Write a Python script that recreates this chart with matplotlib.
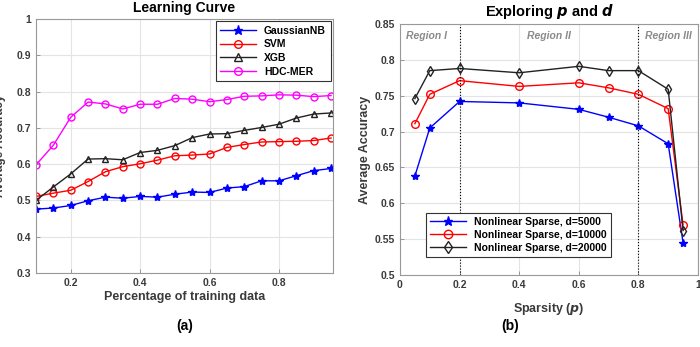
import numpy as np
import matplotlib.pyplot as plt

plt.rcParams['font.family'] = ['Liberation Sans', 'DejaVu Sans']
plt.rcParams['font.weight'] = 'bold'
plt.rcParams['axes.labelweight'] = 'bold'
plt.rcParams['axes.titleweight'] = 'bold'
plt.rcParams['mathtext.default'] = 'bfit'

# panel (a): learning curve
train_frac = [0.1, 0.15, 0.2, 0.25, 0.3, 0.35, 0.4, 0.45, 0.5, 0.55, 0.6, 0.65,
              0.7, 0.75, 0.8, 0.85, 0.9, 0.95]
gnb = [0.476, 0.479, 0.486, 0.499, 0.509, 0.506, 0.511, 0.509, 0.517, 0.523, 0.522,
       0.534, 0.538, 0.554, 0.554, 0.568, 0.582, 0.588]
svm = [0.511, 0.520, 0.528, 0.552, 0.579, 0.593, 0.601, 0.611, 0.623, 0.625, 0.628,
       0.646, 0.654, 0.661, 0.662, 0.663, 0.665, 0.672]
xgb = [0.500, 0.537, 0.573, 0.614, 0.615, 0.612, 0.632, 0.638, 0.651, 0.673, 0.683,
       0.684, 0.693, 0.701, 0.710, 0.727, 0.738, 0.741]
hdc = [0.598, 0.652, 0.729, 0.771, 0.766, 0.752, 0.765, 0.765, 0.781, 0.779, 0.772,
       0.778, 0.787, 0.788, 0.791, 0.790, 0.786, 0.789]

# panel (b): sparsity sweep
sparsity = [0.05, 0.1, 0.2, 0.4, 0.6, 0.7, 0.8, 0.9, 0.95]
d5000 = [0.638, 0.705, 0.742, 0.740, 0.731, 0.720, 0.708, 0.683, 0.545]
d10000 = [0.711, 0.752, 0.771, 0.763, 0.768, 0.761, 0.752, 0.732, 0.570]
d20000 = [0.746, 0.785, 0.788, 0.782, 0.791, 0.785, 0.785, 0.759, 0.562]
region_labels = ['Region I', 'Region II', 'Region III']

fig = plt.figure(figsize=(7, 3.47), dpi=100)
ax1 = fig.add_axes([0.0514, 0.2133, 0.424, 0.732])
ax2 = fig.add_axes([0.5714, 0.2075, 0.4257, 0.7233])

tick_col = '#3a3a3a'


def style(ax):
    ax.grid(True, color='#e4e4e4', lw=0.8)
    ax.set_axisbelow(True)
    ax.tick_params(direction='in', length=3, color='#888888', labelsize=7.5,
                   labelcolor=tick_col, width=0.6)
    for lab in ax.get_xticklabels() + ax.get_yticklabels():
        lab.set_fontweight('bold')
    for s in ax.spines.values():
        s.set_color('#999999')
        s.set_linewidth(0.8)


ax1.plot(train_frac, gnb, '-*', color='blue', ms=6, lw=1, label='GaussianNB')
ax1.plot(train_frac, svm, '-o', color='red', mfc='none', ms=5, lw=1, label='SVM')
ax1.plot(train_frac, xgb, '-^', color='#222222', mfc='none', ms=5, lw=1, label='XGB')
ax1.plot(train_frac, hdc, '-o', color='magenta', mfc='none', ms=5, lw=1, label='HDC-MER')
ax1.set_xlim(0.1, 0.955)
ax1.set_ylim(0.3, 1.0)
ax1.set_xticks([0.2, 0.4, 0.6, 0.8])
ax1.set_xticklabels(['0.2', '0.4', '0.6', '0.8'])
ax1.set_yticks([0.3, 0.4, 0.5, 0.6, 0.7, 0.8, 0.9, 1.0])
ax1.set_yticklabels(['0.3', '0.4', '0.5', '0.6', '0.7', '0.8', '0.9', '1'])
style(ax1)
ax1.set_xlabel('Percentage of training data', fontsize=9, color=tick_col, labelpad=2)
ax1.set_title('Learning Curve', fontsize=10, pad=5)
leg1 = ax1.legend(loc='upper right', fontsize=7.5, handlelength=3.4, borderpad=0.45,
                  labelspacing=0.35, fancybox=False, framealpha=1, borderaxespad=0.2,
                  markerscale=1.1)
leg1.get_frame().set_edgecolor('#333333')
leg1.get_frame().set_linewidth(0.8)
fig.text(0.0, 0.58, 'Average Accuracy', rotation=90, fontsize=8.5,
         color=tick_col, ha='center', va='center')

ax2.plot(sparsity, d5000, '-*', color='blue', ms=6, lw=1,
         label='Nonlinear Sparse, d=5000')
ax2.plot(sparsity, d10000, '-o', color='red', mfc='none', ms=5.5, lw=1,
         label='Nonlinear Sparse, d=10000')
ax2.plot(sparsity, d20000, '-d', color='#222222', mfc='none', ms=5.5, lw=1,
         label='Nonlinear Sparse, d=20000')
for xv in [0.2, 0.8]:
    ax2.axvline(xv, color='black', ls=':', lw=0.8)
for xv, txt in zip([0.09, 0.5, 0.9], region_labels):
    ax2.text(xv, 0.833, txt, style='italic', fontweight='bold', color='#8a8a8a',
             fontsize=7.5, ha='center', va='center')
ax2.set_xlim(0, 1)
ax2.set_ylim(0.5, 0.85)
ax2.set_xticks([0, 0.2, 0.4, 0.6, 0.8, 1.0])
ax2.set_xticklabels(['0', '0.2', '0.4', '0.6', '0.8', '1'])
ax2.set_yticks(np.arange(0.5, 0.851, 0.05))
ax2.set_yticklabels(['0.5', '0.55', '0.6', '0.65', '0.7', '0.75', '0.8', '0.85'])
style(ax2)
ax2.set_xlabel('Sparsity ($p$)', fontsize=9, color=tick_col, labelpad=8)
ax2.set_ylabel('Average Accuracy', fontsize=9, color=tick_col, labelpad=3)
ax2.set_title('Exploring $p$ and $d$', fontsize=10.5, pad=6)
leg2 = ax2.legend(loc='lower left', bbox_to_anchor=(0.07, 0.05), fontsize=7.5,
                  handlelength=3.4, borderpad=0.4, labelspacing=0.3, fancybox=False,
                  framealpha=1, markerscale=1.1)
leg2.get_frame().set_edgecolor('#333333')
leg2.get_frame().set_linewidth(0.8)

fig.text(0.264, 0.06, '(a)', fontsize=10, ha='center', va='center')
fig.text(0.729, 0.06, '(b)', fontsize=10, ha='center', va='center')

fig.savefig('out.png', dpi=100)
